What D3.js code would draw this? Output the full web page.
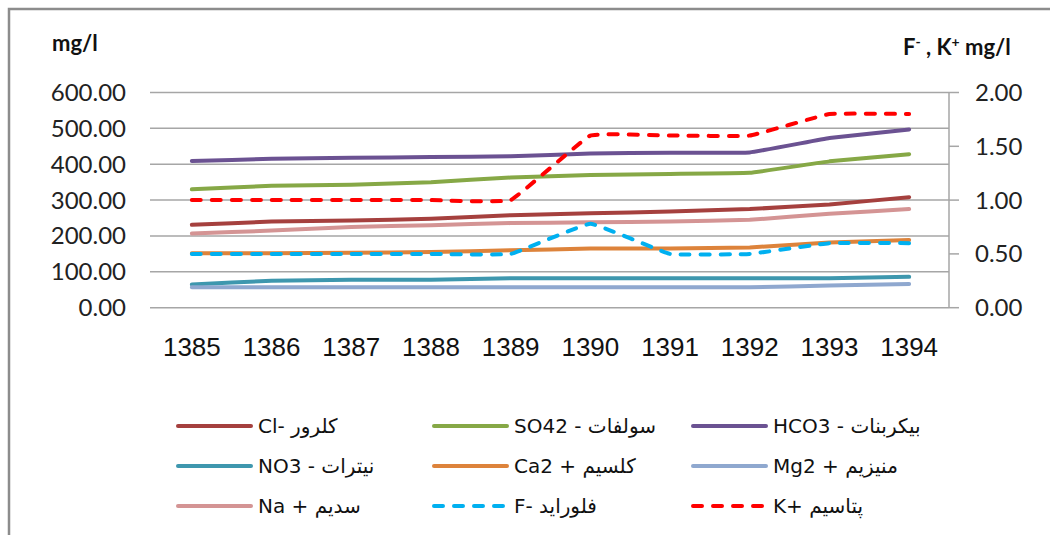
<!DOCTYPE html>
<html>
<head>
<meta charset="utf-8">
<script src="https://cdn.jsdelivr.net/npm/d3@7"></script>
<style>
  body { margin: 0; background: #fff; }
  svg { display: block; }
  .grid line { stroke: #a6a6a6; stroke-width: 1.5; }
  .tick-label { font-family: Lato, "Open Sans", sans-serif; font-size: 24px; fill: #222; }
  .xlabel { font-family: "Liberation Sans", Arial, sans-serif; font-size: 26px; fill: #111; }
  .unit { font-family: Lato, sans-serif; font-size: 22px; font-weight: bold; fill: #111; }
  .legend text { font-family: "DejaVu Sans", sans-serif; font-size: 20px; fill: #111; }
  .series { fill: none; stroke-width: 4; stroke-linecap: round; stroke-linejoin: round; }
</style>
</head>
<body>
<div id="chart"></div>
<script>
var width = 1050, height = 535;

// data
var years = ["1385", "1386", "1387", "1388", "1389", "1390", "1391", "1392", "1393", "1394"];
var leftTicks = [0, 100, 200, 300, 400, 500, 600];
var rightTicks = [0, 0.5, 1, 1.5, 2];

var cl   = [231, 240, 243, 248, 258, 263, 268, 275, 288, 308];
var so4  = [330, 340, 343, 350, 363, 370, 373, 376, 408, 428];
var hco3 = [409, 415, 418, 420, 422, 430, 432, 433, 473, 497];
var no3  = [65, 75, 78, 78, 82, 82, 82, 82, 82, 86];
var ca   = [152, 152, 153, 155, 160, 165, 165, 168, 182, 189];
var mg   = [57, 57, 57, 57, 57, 57, 57, 57, 62, 66];
var na   = [207, 215, 225, 230, 236, 238, 240, 245, 262, 275];
var fl   = [0.5, 0.5, 0.5, 0.5, 0.5, 0.78, 0.5, 0.5, 0.6, 0.6];
var k    = [1, 1, 1, 1, 1, 1.6, 1.6, 1.6, 1.8, 1.8];

var series = [
  { label: "Cl-  کلرور", values: cl, color: "#a5403e", axis: "left" },
  { label: "SO42 - سولفات", values: so4, color: "#86a846", axis: "left" },
  { label: "HCO3 - بیکربنات", values: hco3, color: "#6b5292", axis: "left" },
  { label: "NO3 - نیترات", values: no3, color: "#3e97ae", axis: "left" },
  { label: "Ca2 + کلسیم", values: ca, color: "#dd833b", axis: "left" },
  { label: "Mg2 + منیزیم", values: mg, color: "#8fa8cf", axis: "left" },
  { label: "Na  + سدیم", values: na, color: "#d49494", axis: "left" },
  { label: "F- فلوراید", values: fl, color: "#00b0f0", axis: "right", dash: true },
  { label: "K+ پتاسیم", values: k, color: "#ff0000", axis: "right", dash: true }
];

var plot = { left: 152, right: 949, top: 92.5, bottom: 307.7 };

var svg = d3.select("#chart").append("svg")
  .attr("width", width)
  .attr("height", height);

// outer frame (top and left edges visible)
svg.append("path")
  .attr("d", "M9," + height + " V9 H" + width)
  .attr("fill", "none")
  .attr("stroke", "#8c8c8c")
  .attr("stroke-width", 2.5);

var x = d3.scaleBand()
  .domain(years)
  .range([plot.left, plot.right]);

var yL = d3.scaleLinear()
  .domain([0, 600])
  .range([plot.bottom, plot.top]);

var yR = d3.scaleLinear()
  .domain([0, 2])
  .range([plot.bottom, plot.top]);

// gridlines
svg.append("g")
    .attr("class", "grid")
  .selectAll("line")
    .data(leftTicks)
  .enter().append("line")
    .attr("x1", 150)
    .attr("x2", plot.right)
    .attr("y1", function(d) { return yL(d); })
    .attr("y2", function(d) { return yL(d); });

// left tick labels
svg.append("g").selectAll("text")
    .data(leftTicks)
  .enter().append("text")
    .attr("class", "tick-label")
    .attr("x", 126)
    .attr("y", function(d) { return yL(d); })
    .attr("dy", "0.35em")
    .attr("text-anchor", "end")
    .text(d3.format(".2f"));

// right axis
var rightAxis = svg.append("g");
rightAxis.append("line")
  .attr("x1", plot.right).attr("x2", plot.right)
  .attr("y1", plot.top).attr("y2", plot.bottom)
  .attr("stroke", "#a6a6a6").attr("stroke-width", 1.5);

rightAxis.selectAll(".rtick")
    .data(rightTicks)
  .enter().append("line")
    .attr("x1", plot.right).attr("x2", plot.right + 10)
    .attr("y1", function(d) { return yR(d); })
    .attr("y2", function(d) { return yR(d); })
    .attr("stroke", "#a6a6a6").attr("stroke-width", 1.5);

rightAxis.selectAll("text")
    .data(rightTicks)
  .enter().append("text")
    .attr("class", "tick-label")
    .attr("x", 975)
    .attr("y", function(d) { return yR(d); })
    .attr("dy", "0.35em")
    .text(d3.format(".2f"));

// x labels
svg.append("g").selectAll("text")
    .data(years)
  .enter().append("text")
    .attr("class", "xlabel")
    .attr("x", function(d) { return x(d) + x.bandwidth() / 2; })
    .attr("y", 356)
    .attr("text-anchor", "middle")
    .text(function(d) { return d; });

// unit titles
svg.append("text")
  .attr("class", "unit")
  .attr("x", 52).attr("y", 51)
  .text("mg/l");

var rt = svg.append("text")
  .attr("class", "unit")
  .attr("x", 903).attr("y", 55);
rt.append("tspan").text("F");
rt.append("tspan").attr("dy", -8).attr("font-size", 14).text("-");
rt.append("tspan").attr("dy", 8).text(" , K");
rt.append("tspan").attr("dy", -8).attr("font-size", 14).text("+");
rt.append("tspan").attr("dy", 8).text(" mg/l");

// lines
series.forEach(function(s) {
  var yScale = s.axis === "left" ? yL : yR;
  var line = d3.line()
    .x(function(d, i) { return x(years[i]) + x.bandwidth() / 2; })
    .y(function(d) { return yScale(d); })
    .curve(d3.curveCardinal.tension(0.75));

  svg.append("path")
    .datum(s.values)
    .attr("class", "series")
    .attr("stroke", s.color)
    .attr("stroke-dasharray", s.dash ? "9,11" : null)
    .attr("d", line);
});

// legend
var colX = [178, 434, 693];
var rowY = [426, 466, 506];

var legend = svg.append("g")
    .attr("class", "legend")
  .selectAll("g")
    .data(series)
  .enter().append("g")
    .attr("transform", function(d, i) {
      return "translate(" + colX[i % 3] + "," + rowY[Math.floor(i / 3)] + ")";
    });

legend.append("line")
  .attr("x1", 0).attr("x2", 73)
  .attr("stroke", function(d) { return d.color; })
  .attr("stroke-width", 4)
  .attr("stroke-linecap", "round")
  .attr("stroke-dasharray", function(d) { return d.dash ? "9,11" : null; });

legend.append("text")
  .attr("x", 80)
  .attr("dy", "0.35em")
  .attr("direction", "ltr")
  .text(function(d) { return d.label; });
</script>
</body>
</html>
